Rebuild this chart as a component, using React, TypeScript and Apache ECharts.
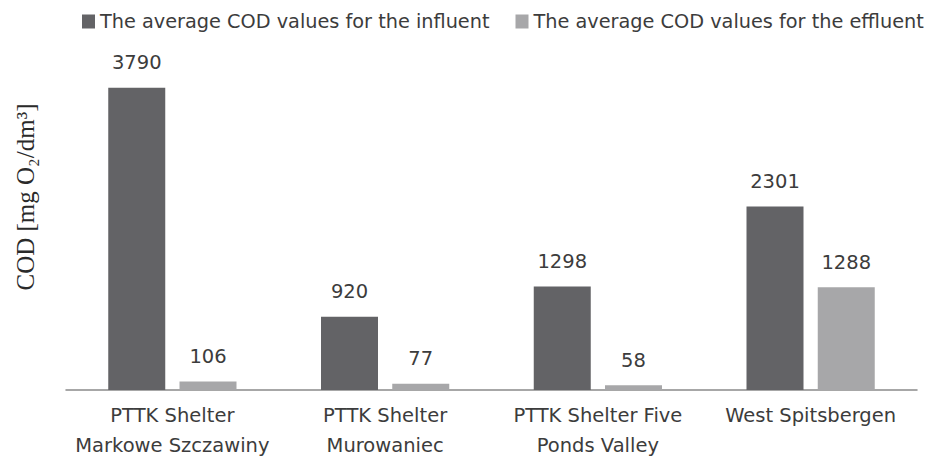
import React, { useEffect, useRef } from "react";
import * as echarts from "echarts";

const categories = [
  "PTTK Shelter\nMarkowe Szczawiny",
  "PTTK Shelter\nMurowaniec",
  "PTTK Shelter Five\nPonds Valley",
  "West Spitsbergen",
];
const seriesNames = [
  "The average COD values for the influent",
  "The average COD values for the effluent",
];
const influent = [3790, 920, 1298, 2301];
const effluent = [106, 77, 58, 1288];
const yTitle = "COD [mg O\u2082/dm\u00B3]";

export default function App() {
  const ref = useRef<HTMLDivElement>(null);
  useEffect(() => {
    if (!ref.current) return;
    const chart = echarts.init(ref.current, undefined, { renderer: "svg" });
    const textColor = "#3c3c3c";
    const labelFont = "DejaVu Sans";
    const dataLabel = {
      show: true,
      position: "top",
      distance: 15,
      fontFamily: labelFont,
      fontSize: 19.5,
      color: textColor,
    };
    chart.setOption({
      animation: false,
      backgroundColor: "#ffffff",
      legend: {
        left: 82,
        top: 12,
        width: 852,
        padding: 0,
        itemWidth: 13,
        itemHeight: 14,
        itemGap: 26,
        icon: "rect",
        textStyle: { fontFamily: labelFont, fontSize: 19.3, color: textColor },
        data: seriesNames,
      },
      grid: { left: 66, right: 17, top: 71, bottom: 74 },
      xAxis: {
        type: "category",
        data: categories,
        axisLine: { show: true, lineStyle: { color: "#8a8a8a", width: 1.5 } },
        axisTick: { show: false },
        axisLabel: {
          fontFamily: labelFont,
          fontSize: 19.5,
          color: textColor,
          lineHeight: 30,
          margin: 10,
          interval: 0,
        },
      },
      yAxis: {
        type: "value",
        min: 0,
        max: 4000,
        axisLine: { show: false },
        axisTick: { show: false },
        axisLabel: { show: false },
        splitLine: { show: false },
      },
      graphic: [
        {
          type: "text",
          x: 25,
          y: 197,
          rotation: Math.PI / 2,
          style: {
            text: yTitle,
            fontFamily: "Liberation Serif, DejaVu Serif, serif",
            fontSize: 25,
            fill: "#2a2a2a",
            align: "center",
            verticalAlign: "middle",
          },
        },
      ],
      series: [
        {
          name: seriesNames[0],
          type: "bar",
          data: influent,
          barWidth: 57,
          barGap: "25%",
          itemStyle: { color: "#636366" },
          label: dataLabel,
        },
        {
          name: seriesNames[1],
          type: "bar",
          data: effluent,
          barWidth: 57,
          barGap: "25%",
          itemStyle: { color: "#a7a7a9" },
          label: dataLabel,
        },
      ],
    });
    return () => chart.dispose();
  }, []);
  return (
    <div
      ref={ref}
      style={{ position: "fixed", left: 0, top: 0, width: 934, height: 464 }}
    />
  );
}
